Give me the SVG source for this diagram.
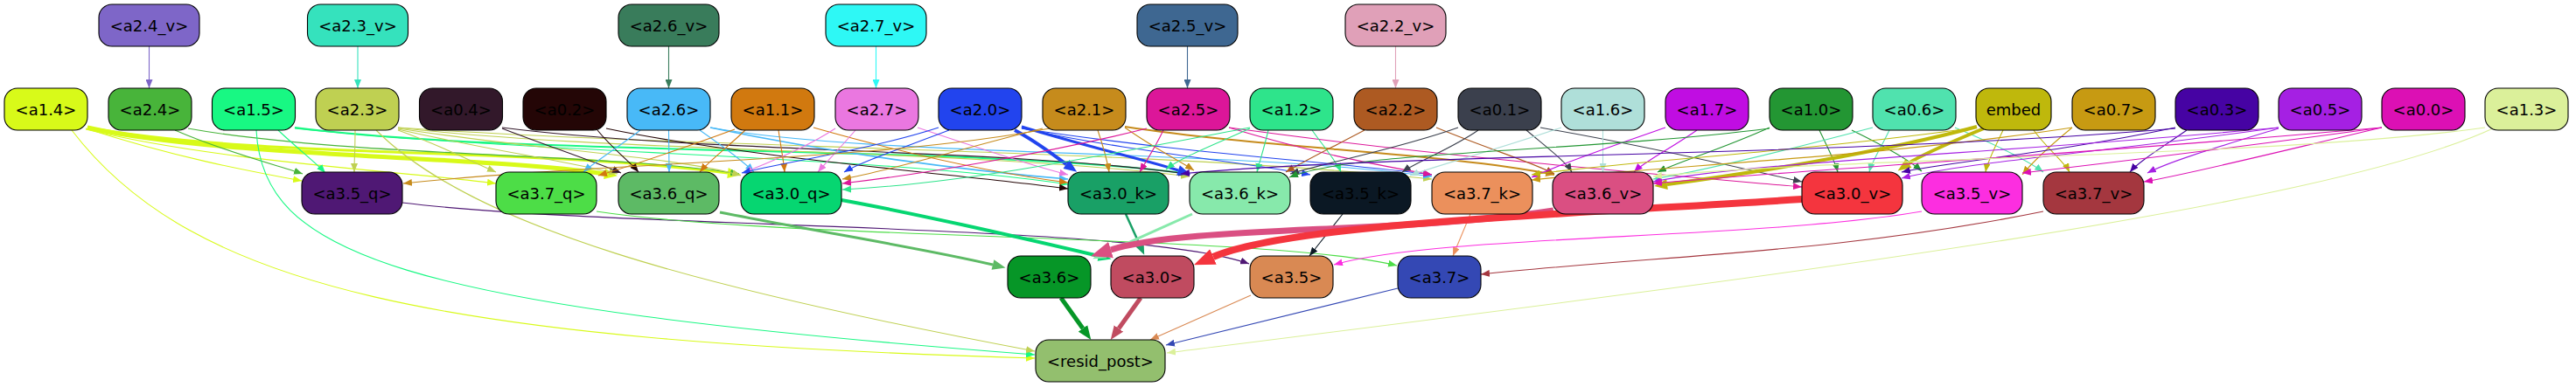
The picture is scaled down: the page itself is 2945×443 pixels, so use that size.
<svg xmlns="http://www.w3.org/2000/svg" width="2945" height="443" viewBox="0 0 2945 443">
<style>
.n rect{stroke:#000;stroke-width:1.1}
.n text{font-family:"DejaVu Sans","Liberation Sans",sans-serif;font-size:18px;text-anchor:middle;fill:#000}
#edges path{fill:none;stroke-width:1.1}
</style>
<defs>
<marker id="t-a24v" viewBox="0 0 10 8" refX="10" refY="4" markerWidth="10" markerHeight="8" orient="auto" markerUnits="userSpaceOnUse"><path d="M0,0L10,4L0,8z" fill="#7e66c8"/></marker>
<marker id="t-a23v" viewBox="0 0 10 8" refX="10" refY="4" markerWidth="10" markerHeight="8" orient="auto" markerUnits="userSpaceOnUse"><path d="M0,0L10,4L0,8z" fill="#35e2bd"/></marker>
<marker id="t-a26v" viewBox="0 0 10 8" refX="10" refY="4" markerWidth="10" markerHeight="8" orient="auto" markerUnits="userSpaceOnUse"><path d="M0,0L10,4L0,8z" fill="#397c5b"/></marker>
<marker id="t-a27v" viewBox="0 0 10 8" refX="10" refY="4" markerWidth="10" markerHeight="8" orient="auto" markerUnits="userSpaceOnUse"><path d="M0,0L10,4L0,8z" fill="#2ef8f5"/></marker>
<marker id="t-a25v" viewBox="0 0 10 8" refX="10" refY="4" markerWidth="10" markerHeight="8" orient="auto" markerUnits="userSpaceOnUse"><path d="M0,0L10,4L0,8z" fill="#3e6791"/></marker>
<marker id="t-a22v" viewBox="0 0 10 8" refX="10" refY="4" markerWidth="10" markerHeight="8" orient="auto" markerUnits="userSpaceOnUse"><path d="M0,0L10,4L0,8z" fill="#e0a0b8"/></marker>
<marker id="t-a14" viewBox="0 0 10 8" refX="10" refY="4" markerWidth="10" markerHeight="8" orient="auto" markerUnits="userSpaceOnUse"><path d="M0,0L10,4L0,8z" fill="#d8fa19"/></marker>
<marker id="t-a24" viewBox="0 0 10 8" refX="10" refY="4" markerWidth="10" markerHeight="8" orient="auto" markerUnits="userSpaceOnUse"><path d="M0,0L10,4L0,8z" fill="#48b43a"/></marker>
<marker id="t-a15" viewBox="0 0 10 8" refX="10" refY="4" markerWidth="10" markerHeight="8" orient="auto" markerUnits="userSpaceOnUse"><path d="M0,0L10,4L0,8z" fill="#18f883"/></marker>
<marker id="t-a23" viewBox="0 0 10 8" refX="10" refY="4" markerWidth="10" markerHeight="8" orient="auto" markerUnits="userSpaceOnUse"><path d="M0,0L10,4L0,8z" fill="#bfd052"/></marker>
<marker id="t-a04" viewBox="0 0 10 8" refX="10" refY="4" markerWidth="10" markerHeight="8" orient="auto" markerUnits="userSpaceOnUse"><path d="M0,0L10,4L0,8z" fill="#32182a"/></marker>
<marker id="t-a02" viewBox="0 0 10 8" refX="10" refY="4" markerWidth="10" markerHeight="8" orient="auto" markerUnits="userSpaceOnUse"><path d="M0,0L10,4L0,8z" fill="#240606"/></marker>
<marker id="t-a26" viewBox="0 0 10 8" refX="10" refY="4" markerWidth="10" markerHeight="8" orient="auto" markerUnits="userSpaceOnUse"><path d="M0,0L10,4L0,8z" fill="#48b9f7"/></marker>
<marker id="t-a11" viewBox="0 0 10 8" refX="10" refY="4" markerWidth="10" markerHeight="8" orient="auto" markerUnits="userSpaceOnUse"><path d="M0,0L10,4L0,8z" fill="#d1790f"/></marker>
<marker id="t-a27" viewBox="0 0 10 8" refX="10" refY="4" markerWidth="10" markerHeight="8" orient="auto" markerUnits="userSpaceOnUse"><path d="M0,0L10,4L0,8z" fill="#ea77e0"/></marker>
<marker id="t-a20" viewBox="0 0 10 8" refX="10" refY="4" markerWidth="10" markerHeight="8" orient="auto" markerUnits="userSpaceOnUse"><path d="M0,0L10,4L0,8z" fill="#2244ee"/></marker>
<marker id="t-a21" viewBox="0 0 10 8" refX="10" refY="4" markerWidth="10" markerHeight="8" orient="auto" markerUnits="userSpaceOnUse"><path d="M0,0L10,4L0,8z" fill="#c68b1c"/></marker>
<marker id="t-a25" viewBox="0 0 10 8" refX="10" refY="4" markerWidth="10" markerHeight="8" orient="auto" markerUnits="userSpaceOnUse"><path d="M0,0L10,4L0,8z" fill="#dc1699"/></marker>
<marker id="t-a12" viewBox="0 0 10 8" refX="10" refY="4" markerWidth="10" markerHeight="8" orient="auto" markerUnits="userSpaceOnUse"><path d="M0,0L10,4L0,8z" fill="#2ee48b"/></marker>
<marker id="t-a22" viewBox="0 0 10 8" refX="10" refY="4" markerWidth="10" markerHeight="8" orient="auto" markerUnits="userSpaceOnUse"><path d="M0,0L10,4L0,8z" fill="#ad5a22"/></marker>
<marker id="t-a01" viewBox="0 0 10 8" refX="10" refY="4" markerWidth="10" markerHeight="8" orient="auto" markerUnits="userSpaceOnUse"><path d="M0,0L10,4L0,8z" fill="#3b404d"/></marker>
<marker id="t-a16" viewBox="0 0 10 8" refX="10" refY="4" markerWidth="10" markerHeight="8" orient="auto" markerUnits="userSpaceOnUse"><path d="M0,0L10,4L0,8z" fill="#afdfd9"/></marker>
<marker id="t-a17" viewBox="0 0 10 8" refX="10" refY="4" markerWidth="10" markerHeight="8" orient="auto" markerUnits="userSpaceOnUse"><path d="M0,0L10,4L0,8z" fill="#c00de2"/></marker>
<marker id="t-a10" viewBox="0 0 10 8" refX="10" refY="4" markerWidth="10" markerHeight="8" orient="auto" markerUnits="userSpaceOnUse"><path d="M0,0L10,4L0,8z" fill="#239633"/></marker>
<marker id="t-a06" viewBox="0 0 10 8" refX="10" refY="4" markerWidth="10" markerHeight="8" orient="auto" markerUnits="userSpaceOnUse"><path d="M0,0L10,4L0,8z" fill="#50e2ae"/></marker>
<marker id="t-emb" viewBox="0 0 10 8" refX="10" refY="4" markerWidth="10" markerHeight="8" orient="auto" markerUnits="userSpaceOnUse"><path d="M0,0L10,4L0,8z" fill="#bfb80c"/></marker>
<marker id="t-a07" viewBox="0 0 10 8" refX="10" refY="4" markerWidth="10" markerHeight="8" orient="auto" markerUnits="userSpaceOnUse"><path d="M0,0L10,4L0,8z" fill="#c79a12"/></marker>
<marker id="t-a03" viewBox="0 0 10 8" refX="10" refY="4" markerWidth="10" markerHeight="8" orient="auto" markerUnits="userSpaceOnUse"><path d="M0,0L10,4L0,8z" fill="#4603a3"/></marker>
<marker id="t-a05" viewBox="0 0 10 8" refX="10" refY="4" markerWidth="10" markerHeight="8" orient="auto" markerUnits="userSpaceOnUse"><path d="M0,0L10,4L0,8z" fill="#a520e3"/></marker>
<marker id="t-a00" viewBox="0 0 10 8" refX="10" refY="4" markerWidth="10" markerHeight="8" orient="auto" markerUnits="userSpaceOnUse"><path d="M0,0L10,4L0,8z" fill="#dc10b4"/></marker>
<marker id="t-a13" viewBox="0 0 10 8" refX="10" refY="4" markerWidth="10" markerHeight="8" orient="auto" markerUnits="userSpaceOnUse"><path d="M0,0L10,4L0,8z" fill="#dbf09a"/></marker>
<marker id="t-a35q" viewBox="0 0 10 8" refX="10" refY="4" markerWidth="10" markerHeight="8" orient="auto" markerUnits="userSpaceOnUse"><path d="M0,0L10,4L0,8z" fill="#4f1874"/></marker>
<marker id="t-a37q" viewBox="0 0 10 8" refX="10" refY="4" markerWidth="10" markerHeight="8" orient="auto" markerUnits="userSpaceOnUse"><path d="M0,0L10,4L0,8z" fill="#4ddd47"/></marker>
<marker id="t-a35k" viewBox="0 0 10 8" refX="10" refY="4" markerWidth="10" markerHeight="8" orient="auto" markerUnits="userSpaceOnUse"><path d="M0,0L10,4L0,8z" fill="#0b1824"/></marker>
<marker id="t-a37k" viewBox="0 0 10 8" refX="10" refY="4" markerWidth="10" markerHeight="8" orient="auto" markerUnits="userSpaceOnUse"><path d="M0,0L10,4L0,8z" fill="#eb905c"/></marker>
<marker id="t-a35v" viewBox="0 0 10 8" refX="10" refY="4" markerWidth="10" markerHeight="8" orient="auto" markerUnits="userSpaceOnUse"><path d="M0,0L10,4L0,8z" fill="#fc2ee0"/></marker>
<marker id="t-a37v" viewBox="0 0 10 8" refX="10" refY="4" markerWidth="10" markerHeight="8" orient="auto" markerUnits="userSpaceOnUse"><path d="M0,0L10,4L0,8z" fill="#a4373f"/></marker>
<marker id="t-a35" viewBox="0 0 10 8" refX="10" refY="4" markerWidth="10" markerHeight="8" orient="auto" markerUnits="userSpaceOnUse"><path d="M0,0L10,4L0,8z" fill="#d98953"/></marker>
<marker id="t-a37" viewBox="0 0 10 8" refX="10" refY="4" markerWidth="10" markerHeight="8" orient="auto" markerUnits="userSpaceOnUse"><path d="M0,0L10,4L0,8z" fill="#3448b4"/></marker>
<marker id="M-a14" viewBox="0 0 10 8" refX="0" refY="4" markerWidth="16" markerHeight="12" orient="auto" markerUnits="userSpaceOnUse"><path d="M0,0L10,4L0,8z" fill="#d8fa19"/></marker>
<marker id="M-a20" viewBox="0 0 10 8" refX="0" refY="4" markerWidth="16" markerHeight="12" orient="auto" markerUnits="userSpaceOnUse"><path d="M0,0L10,4L0,8z" fill="#2244ee"/></marker>
<marker id="M-emb" viewBox="0 0 10 8" refX="0" refY="4" markerWidth="16" markerHeight="12" orient="auto" markerUnits="userSpaceOnUse"><path d="M0,0L10,4L0,8z" fill="#bfb80c"/></marker>
<marker id="M-a30q" viewBox="0 0 10 8" refX="0" refY="4" markerWidth="16" markerHeight="12" orient="auto" markerUnits="userSpaceOnUse"><path d="M0,0L10,4L0,8z" fill="#06d671"/></marker>
<marker id="M-a36q" viewBox="0 0 10 8" refX="0" refY="4" markerWidth="16" markerHeight="12" orient="auto" markerUnits="userSpaceOnUse"><path d="M0,0L10,4L0,8z" fill="#5dba65"/></marker>
<marker id="M-a30k" viewBox="0 0 10 8" refX="0" refY="4" markerWidth="16" markerHeight="12" orient="auto" markerUnits="userSpaceOnUse"><path d="M0,0L10,4L0,8z" fill="#19a066"/></marker>
<marker id="M-a36k" viewBox="0 0 10 8" refX="0" refY="4" markerWidth="16" markerHeight="12" orient="auto" markerUnits="userSpaceOnUse"><path d="M0,0L10,4L0,8z" fill="#87e9ab"/></marker>
<marker id="M-a36" viewBox="0 0 10 8" refX="0" refY="4" markerWidth="16" markerHeight="14" orient="auto" markerUnits="userSpaceOnUse"><path d="M0,0L10,4L0,8z" fill="#069627"/></marker>
<marker id="M-a30" viewBox="0 0 10 8" refX="0" refY="4" markerWidth="16" markerHeight="14" orient="auto" markerUnits="userSpaceOnUse"><path d="M0,0L10,4L0,8z" fill="#c04b60"/></marker>
<marker id="B-a36v" viewBox="0 0 10 8" refX="0" refY="4" markerWidth="24" markerHeight="20" orient="auto" markerUnits="userSpaceOnUse"><path d="M0,0L10,4L0,8z" fill="#da4f82"/></marker>
<marker id="B-a30v" viewBox="0 0 10 8" refX="0" refY="4" markerWidth="24" markerHeight="20" orient="auto" markerUnits="userSpaceOnUse"><path d="M0,0L10,4L0,8z" fill="#f4353e"/></marker>
</defs>
<g id="edges">
<path d="M170.5,53L170.5,101" stroke="#7e66c8" marker-end="url(#t-a24v)"/>
<path d="M409,53L409,101" stroke="#35e2bd" marker-end="url(#t-a23v)"/>
<path d="M764.5,53L764.5,101" stroke="#397c5b" marker-end="url(#t-a26v)"/>
<path d="M1001.5,53L1001.5,101" stroke="#2ef8f5" marker-end="url(#t-a27v)"/>
<path d="M1357.5,53L1357.5,101" stroke="#3e6791" marker-end="url(#t-a25v)"/>
<path d="M1595.5,53L1595.5,101" stroke="#e0a0b8" marker-end="url(#t-a22v)"/>

<path d="M98,147C200,180 280,195 345,207" stroke="#d8fa19" marker-end="url(#t-a14)"/>
<path d="M98,148C250,185 450,195 567,210" stroke="#d8fa19" marker-end="url(#t-a14)"/>
<path d="M100,146C250,180 550,178 691,199" stroke="#d8fa19" style="stroke-width:5" marker-end="url(#M-a14)"/>
<path d="M100,146C300,182 600,168 832,198" stroke="#d8fa19" style="stroke-width:3" marker-end="url(#M-a14)"/>
<path d="M82,149C220,330 500,390 1183,410" stroke="#d8fa19" marker-end="url(#t-a14)"/>

<path d="M200,149C260,175 320,190 346,199" stroke="#48b43a" marker-end="url(#t-a24)"/>
<path d="M215,147C400,180 700,175 845,199" stroke="#48b43a" marker-end="url(#t-a24)"/>

<path d="M318,149C340,170 360,185 372,198" stroke="#18f883" marker-end="url(#t-a15)"/>
<path d="M293,149C300,290 450,350 1183,406" stroke="#18f883" marker-end="url(#t-a15)"/>
<path d="M337,146C600,180 1100,165 1360,199" stroke="#18f883" style="stroke-width:2" marker-end="url(#t-a15)"/>
<path d="M337,147C600,175 1000,178 1221,211" stroke="#18f883" marker-end="url(#t-a15)"/>

<path d="M406,149C406,170 405,185 405,197" stroke="#bfd052" marker-end="url(#t-a23)"/>
<path d="M455,149C500,165 540,185 567,197" stroke="#bfd052" marker-end="url(#t-a23)"/>
<path d="M430,149C540,260 800,330 1183,402" stroke="#bfd052" marker-end="url(#t-a23)"/>
<path d="M455,148C550,170 650,185 706,199" stroke="#bfd052" marker-end="url(#t-a23)"/>
<path d="M455,147C600,170 780,180 847,201" stroke="#bfd052" marker-end="url(#t-a23)"/>
<path d="M455,146C700,175 1100,170 1360,202" stroke="#bfd052" marker-end="url(#t-a23)"/>
<path d="M455,146C800,170 1300,170 1637,205" stroke="#bfd052" marker-end="url(#t-a23)"/>

<path d="M574,147C620,165 680,185 710,198" stroke="#32182a" marker-end="url(#t-a04)"/>
<path d="M574,146C800,175 1150,170 1357,199" stroke="#32182a" marker-end="url(#t-a04)"/>

<path d="M683,149C700,170 720,185 730,197" stroke="#240606" marker-end="url(#t-a02)"/>
<path d="M693,147C850,180 1100,200 1221,216" stroke="#240606" marker-end="url(#t-a02)"/>

<path d="M732,149C705,170 680,185 667,197" stroke="#48b9f7" marker-end="url(#t-a26)"/>
<path d="M764.5,149L765,197" stroke="#48b9f7" marker-end="url(#t-a26)"/>
<path d="M800,149C830,170 850,185 862,197" stroke="#48b9f7" marker-end="url(#t-a26)"/>
<path d="M812,146C950,175 1100,195 1221,205" stroke="#48b9f7" style="stroke-width:1.6" marker-end="url(#t-a26)"/>
<path d="M812,146C1000,180 1400,170 1637,202" stroke="#48b9f7" marker-end="url(#t-a26)"/>

<path d="M852,149C830,170 810,185 800,197" stroke="#d1790f" marker-end="url(#t-a11)"/>
<path d="M890,149C893,170 896,185 897,197" stroke="#d1790f" marker-end="url(#t-a11)"/>
<path d="M930,146C1050,180 1150,200 1221,209" stroke="#d1790f" marker-end="url(#t-a11)"/>
<path d="M840,148C780,170 720,190 684,201" stroke="#d1790f" marker-end="url(#t-a11)"/>

<path d="M955,147C920,170 880,185 850,198" stroke="#ea77e0" marker-end="url(#t-a27)"/>
<path d="M978,149C960,170 945,185 935,197" stroke="#ea77e0" marker-end="url(#t-a27)"/>
<path d="M1049,146C1120,170 1180,190 1221,200" stroke="#ea77e0" marker-end="url(#t-a27)"/>

<path d="M1073,146C1000,170 900,185 848,198" stroke="#2244ee" marker-end="url(#t-a20)"/>
<path d="M1085,149C1030,170 985,185 965,197" stroke="#2244ee" marker-end="url(#t-a20)"/>
<path d="M1160,149C1185,162 1205,178 1219,188" stroke="#2244ee" style="stroke-width:4" marker-end="url(#M-a20)"/>
<path d="M1168,145C1250,170 1310,183 1347,195" stroke="#2244ee" style="stroke-width:3" marker-end="url(#M-a20)"/>
<path d="M1168,147C1300,175 1420,185 1498,200" stroke="#2244ee" marker-end="url(#t-a20)"/>
<path d="M1168,147C1350,175 1520,185 1637,200" stroke="#2244ee" marker-end="url(#t-a20)"/>

<path d="M1200,147C1000,185 700,185 461,210" stroke="#c68b1c" marker-end="url(#t-a21)"/>
<path d="M1192,147C1100,170 1020,195 963,205" stroke="#c68b1c" marker-end="url(#t-a21)"/>
<path d="M1255,149C1262,170 1266,185 1268,197" stroke="#c68b1c" marker-end="url(#t-a21)"/>
<path d="M1286,146C1320,170 1350,185 1365,195" stroke="#c68b1c" marker-end="url(#t-a21)"/>
<path d="M1286,145C1450,170 1650,175 1777,200" stroke="#c68b1c" style="stroke-width:2" marker-end="url(#t-a21)"/>

<path d="M1311,147C1200,175 1050,200 963,210" stroke="#dc1699" marker-end="url(#t-a25)"/>
<path d="M1330,149C1320,170 1310,185 1303,197" stroke="#dc1699" marker-end="url(#t-a25)"/>
<path d="M1405,146C1500,175 1580,190 1637,200" stroke="#dc1699" marker-end="url(#t-a25)"/>
<path d="M1405,146C1650,180 1900,200 2060,214" stroke="#dc1699" marker-end="url(#t-a25)"/>

<path d="M1429,146C1250,180 1100,210 963,217" stroke="#2ee48b" marker-end="url(#t-a12)"/>
<path d="M1429,147C1390,165 1350,180 1333,194" stroke="#2ee48b" marker-end="url(#t-a12)"/>
<path d="M1450,149C1445,170 1440,185 1437,197" stroke="#2ee48b" marker-end="url(#t-a12)"/>
<path d="M1500,149C1515,170 1528,185 1533,197" stroke="#2ee48b" marker-end="url(#t-a12)"/>

<path d="M1560,149C1520,170 1490,185 1470,197" stroke="#ad5a22" marker-end="url(#t-a22)"/>
<path d="M1642,146C1700,170 1750,185 1777,199" stroke="#ad5a22" marker-end="url(#t-a22)"/>

<path d="M1667,146C1600,170 1520,185 1475,199" stroke="#3b404d" marker-end="url(#t-a01)"/>
<path d="M1690,149C1660,170 1620,185 1603,197" stroke="#3b404d" marker-end="url(#t-a01)"/>
<path d="M1745,149C1770,170 1790,185 1797,197" stroke="#3b404d" marker-end="url(#t-a01)"/>
<path d="M1761,146C1900,170 2000,195 2060,208" stroke="#3b404d" marker-end="url(#t-a01)"/>

<path d="M1832.5,149L1832.5,197" stroke="#afdfd9" marker-end="url(#t-a16)"/>
<path d="M1785,146C1700,175 1640,190 1612,201" stroke="#afdfd9" marker-end="url(#t-a16)"/>

<path d="M1940,149C1910,170 1880,185 1868,197" stroke="#c00de2" marker-end="url(#t-a17)"/>
<path d="M1904,146C1850,165 1790,185 1751,203" stroke="#c00de2" marker-end="url(#t-a17)"/>

<path d="M2023,146C1970,170 1920,185 1895,197" stroke="#239633" marker-end="url(#t-a10)"/>
<path d="M2080,149C2090,170 2098,185 2101,197" stroke="#239633" marker-end="url(#t-a10)"/>
<path d="M2117,149C2160,170 2185,185 2197,196" stroke="#239633" marker-end="url(#t-a10)"/>
<path d="M2023,147C1800,175 1550,172 1474,203" stroke="#239633" marker-end="url(#t-a10)"/>

<path d="M2141,146C2050,170 1950,195 1890,205" stroke="#50e2ae" marker-end="url(#t-a06)"/>
<path d="M2160,149C2150,170 2140,185 2137,197" stroke="#50e2ae" marker-end="url(#t-a06)"/>
<path d="M2235,146C2280,165 2320,185 2336,197" stroke="#50e2ae" marker-end="url(#t-a06)"/>

<path d="M2260,145C2150,175 1990,200 1906,211" stroke="#bfb80c" style="stroke-width:4" marker-end="url(#M-emb)"/>
<path d="M2268,147C2225,165 2195,178 2182,187" stroke="#bfb80c" style="stroke-width:4" marker-end="url(#M-emb)"/>
<path d="M2290,149C2280,170 2272,185 2270,197" stroke="#bfb80c" marker-end="url(#t-emb)"/>
<path d="M2325,149C2340,170 2360,185 2366,197" stroke="#bfb80c" marker-end="url(#t-emb)"/>
<path d="M2259,146C2050,175 1850,185 1751,200" stroke="#bfb80c" marker-end="url(#t-emb)"/>

<path d="M2369,146C2340,170 2320,190 2312,200" stroke="#c79a12" marker-end="url(#t-a07)"/>
<path d="M2369,146C2150,180 1900,190 1751,206" stroke="#c79a12" marker-end="url(#t-a07)"/>

<path d="M2487,146C2350,175 2230,185 2174,197" stroke="#4603a3" marker-end="url(#t-a03)"/>
<path d="M2500,149C2470,170 2445,185 2435,197" stroke="#4603a3" marker-end="url(#t-a03)"/>
<path d="M2487,147C2100,180 1600,175 1350,199" stroke="#4603a3" marker-end="url(#t-a03)"/>

<path d="M2605,147C2530,170 2480,185 2455,198" stroke="#a520e3" marker-end="url(#t-a05)"/>
<path d="M2605,146C2300,175 2000,185 1890,208" stroke="#a520e3" marker-end="url(#t-a05)"/>
<path d="M2605,146C2400,175 2250,185 2174,204" stroke="#a520e3" marker-end="url(#t-a05)"/>

<path d="M2723,146C2600,175 2500,200 2451,208" stroke="#dc10b4" marker-end="url(#t-a00)"/>
<path d="M2723,146C2550,170 2380,190 2312,198" stroke="#dc10b4" marker-end="url(#t-a00)"/>
<path d="M2723,146C2400,175 2050,195 1890,210" stroke="#dc10b4" marker-end="url(#t-a00)"/>

<path d="M2850,147C2650,240 2000,320 1334,404" stroke="#dbf09a" marker-end="url(#t-a13)"/>
<path d="M2841,146C2600,180 2100,180 1890,202" stroke="#dbf09a" marker-end="url(#t-a13)"/>

<path d="M460,232C700,262 1300,255 1428,302" stroke="#4f1874" marker-end="url(#t-a35q)"/>
<path d="M682,242C900,275 1450,268 1597,304" stroke="#4ddd47" marker-end="url(#t-a37q)"/>
<path d="M823,243C950,268 1060,285 1135,303" stroke="#5dba65" style="stroke-width:3" marker-end="url(#M-a36q)"/>
<path d="M962,229C1050,245 1180,275 1256,293" stroke="#06d671" style="stroke-width:4" marker-end="url(#M-a30q)"/>
<path d="M1287,245L1302,278" stroke="#19a066" style="stroke-width:2.5" marker-end="url(#M-a30k)"/>
<path d="M1363,245L1263,290" stroke="#87e9ab" style="stroke-width:3" marker-end="url(#M-a36k)"/>
<path d="M1535,245L1497,293" stroke="#0b1824" marker-end="url(#t-a35k)"/>
<path d="M1681,245L1661,293" stroke="#eb905c" marker-end="url(#t-a37k)"/>
<path d="M1776,241C1600,268 1360,258 1270,286" stroke="#da4f82" style="stroke-width:7" marker-end="url(#B-a36v)"/>
<path d="M2060,228C1800,245 1480,255 1387,294" stroke="#f4353e" style="stroke-width:8" marker-end="url(#B-a30v)"/>
<path d="M2197,242C2000,275 1650,268 1525,303" stroke="#fc2ee0" marker-end="url(#t-a35v)"/>
<path d="M2336,242C2100,290 1900,292 1693,314" stroke="#a4373f" marker-end="url(#t-a37v)"/>

<path d="M1213,341L1238,376" stroke="#069627" style="stroke-width:5" marker-end="url(#M-a36)"/>
<path d="M1304,341L1279,376" stroke="#c04b60" style="stroke-width:5" marker-end="url(#M-a30)"/>
<path d="M1430,338L1315,389" stroke="#d98953" marker-end="url(#t-a35)"/>
<path d="M1598,330L1333,395" stroke="#3448b4" marker-end="url(#t-a37)"/>
</g>

<g id="a2_4_v" class="n"><rect x="113" y="5" width="115" height="48" rx="15" fill="#7e66c8"/><text x="170.5" y="35.5">&lt;a2.4_v&gt;</text></g>
<g id="a2_3_v" class="n"><rect x="351.5" y="5" width="115" height="48" rx="15" fill="#35e2bd"/><text x="409" y="35.5">&lt;a2.3_v&gt;</text></g>
<g id="a2_6_v" class="n"><rect x="707" y="5" width="115" height="48" rx="15" fill="#397c5b"/><text x="764.5" y="35.5">&lt;a2.6_v&gt;</text></g>
<g id="a2_7_v" class="n"><rect x="944" y="5" width="115" height="48" rx="15" fill="#2ef8f5"/><text x="1001.5" y="35.5">&lt;a2.7_v&gt;</text></g>
<g id="a2_5_v" class="n"><rect x="1300" y="5" width="115" height="48" rx="15" fill="#3e6791"/><text x="1357.5" y="35.5">&lt;a2.5_v&gt;</text></g>
<g id="a2_2_v" class="n"><rect x="1538" y="5" width="115" height="48" rx="15" fill="#e0a0b8"/><text x="1595.5" y="35.5">&lt;a2.2_v&gt;</text></g>

<g id="a1_4" class="n"><rect x="5" y="101" width="95" height="48" rx="15" fill="#d8fa19"/><text x="52.5" y="131.5">&lt;a1.4&gt;</text></g>
<g id="a2_4" class="n"><rect x="124" y="101" width="95" height="48" rx="15" fill="#48b43a"/><text x="171.5" y="131.5">&lt;a2.4&gt;</text></g>
<g id="a1_5" class="n"><rect x="242.5" y="101" width="95" height="48" rx="15" fill="#18f883"/><text x="290" y="131.5">&lt;a1.5&gt;</text></g>
<g id="a2_3" class="n"><rect x="361" y="101" width="95" height="48" rx="15" fill="#bfd052"/><text x="408.5" y="131.5">&lt;a2.3&gt;</text></g>
<g id="a0_4" class="n"><rect x="479.5" y="101" width="95" height="48" rx="15" fill="#32182a"/><text x="527" y="131.5">&lt;a0.4&gt;</text></g>
<g id="a0_2" class="n"><rect x="598" y="101" width="95" height="48" rx="15" fill="#240606"/><text x="645.5" y="131.5">&lt;a0.2&gt;</text></g>
<g id="a2_6" class="n"><rect x="717" y="101" width="95" height="48" rx="15" fill="#48b9f7"/><text x="764.5" y="131.5">&lt;a2.6&gt;</text></g>
<g id="a1_1" class="n"><rect x="836" y="101" width="95" height="48" rx="15" fill="#d1790f"/><text x="883.5" y="131.5">&lt;a1.1&gt;</text></g>
<g id="a2_7" class="n"><rect x="955" y="101" width="95" height="48" rx="15" fill="#ea77e0"/><text x="1002.5" y="131.5">&lt;a2.7&gt;</text></g>
<g id="a2_0" class="n"><rect x="1073" y="101" width="95" height="48" rx="15" fill="#2244ee"/><text x="1120.5" y="131.5">&lt;a2.0&gt;</text></g>
<g id="a2_1" class="n"><rect x="1192" y="101" width="95" height="48" rx="15" fill="#c68b1c"/><text x="1239.5" y="131.5">&lt;a2.1&gt;</text></g>
<g id="a2_5" class="n"><rect x="1311" y="101" width="95" height="48" rx="15" fill="#dc1699"/><text x="1358.5" y="131.5">&lt;a2.5&gt;</text></g>
<g id="a1_2" class="n"><rect x="1429" y="101" width="95" height="48" rx="15" fill="#2ee48b"/><text x="1476.5" y="131.5">&lt;a1.2&gt;</text></g>
<g id="a2_2" class="n"><rect x="1548" y="101" width="95" height="48" rx="15" fill="#ad5a22"/><text x="1595.5" y="131.5">&lt;a2.2&gt;</text></g>
<g id="a0_1" class="n"><rect x="1667" y="101" width="95" height="48" rx="15" fill="#3b404d"/><text x="1714.5" y="131.5">&lt;a0.1&gt;</text></g>
<g id="a1_6" class="n"><rect x="1785" y="101" width="95" height="48" rx="15" fill="#afdfd9"/><text x="1832.5" y="131.5">&lt;a1.6&gt;</text></g>
<g id="a1_7" class="n"><rect x="1904" y="101" width="95" height="48" rx="15" fill="#c00de2"/><text x="1951.5" y="131.5">&lt;a1.7&gt;</text></g>
<g id="a1_0" class="n"><rect x="2023" y="101" width="95" height="48" rx="15" fill="#239633"/><text x="2070.5" y="131.5">&lt;a1.0&gt;</text></g>
<g id="a0_6" class="n"><rect x="2141" y="101" width="95" height="48" rx="15" fill="#50e2ae"/><text x="2188.5" y="131.5">&lt;a0.6&gt;</text></g>
<g id="embed" class="n"><rect x="2259" y="101" width="86" height="48" rx="15" fill="#bfb80c"/><text x="2302" y="131.5">embed</text></g>
<g id="a0_7" class="n"><rect x="2369" y="101" width="95" height="48" rx="15" fill="#c79a12"/><text x="2416.5" y="131.5">&lt;a0.7&gt;</text></g>
<g id="a0_3" class="n"><rect x="2487" y="101" width="95" height="48" rx="15" fill="#4603a3"/><text x="2534.5" y="131.5">&lt;a0.3&gt;</text></g>
<g id="a0_5" class="n"><rect x="2605" y="101" width="95" height="48" rx="15" fill="#a520e3"/><text x="2652.5" y="131.5">&lt;a0.5&gt;</text></g>
<g id="a0_0" class="n"><rect x="2723" y="101" width="95" height="48" rx="15" fill="#dc10b4"/><text x="2770.5" y="131.5">&lt;a0.0&gt;</text></g>
<g id="a1_3" class="n"><rect x="2841" y="101" width="95" height="48" rx="15" fill="#dbf09a"/><text x="2888.5" y="131.5">&lt;a1.3&gt;</text></g>

<g id="a3_5_q" class="n"><rect x="345" y="197" width="115" height="48" rx="15" fill="#4f1874"/><text x="402.5" y="227.5">&lt;a3.5_q&gt;</text></g>
<g id="a3_7_q" class="n"><rect x="567" y="197" width="115" height="48" rx="15" fill="#4ddd47"/><text x="624.5" y="227.5">&lt;a3.7_q&gt;</text></g>
<g id="a3_6_q" class="n"><rect x="707" y="197" width="115" height="48" rx="15" fill="#5dba65"/><text x="764.5" y="227.5">&lt;a3.6_q&gt;</text></g>
<g id="a3_0_q" class="n"><rect x="847" y="197" width="115" height="48" rx="15" fill="#06d671"/><text x="904.5" y="227.5">&lt;a3.0_q&gt;</text></g>
<g id="a3_0_k" class="n"><rect x="1221" y="197" width="115" height="48" rx="15" fill="#19a066"/><text x="1278.5" y="227.5">&lt;a3.0_k&gt;</text></g>
<g id="a3_6_k" class="n"><rect x="1360" y="197" width="115" height="48" rx="15" fill="#87e9ab"/><text x="1417.5" y="227.5">&lt;a3.6_k&gt;</text></g>
<g id="a3_5_k" class="n"><rect x="1498" y="197" width="115" height="48" rx="15" fill="#0b1824"/><text x="1555.5" y="227.5">&lt;a3.5_k&gt;</text></g>
<g id="a3_7_k" class="n"><rect x="1637" y="197" width="115" height="48" rx="15" fill="#eb905c"/><text x="1694.5" y="227.5">&lt;a3.7_k&gt;</text></g>
<g id="a3_6_v" class="n"><rect x="1775" y="197" width="115" height="48" rx="15" fill="#da4f82"/><text x="1832.5" y="227.5">&lt;a3.6_v&gt;</text></g>
<g id="a3_0_v" class="n"><rect x="2060" y="197" width="115" height="48" rx="15" fill="#f4353e"/><text x="2117.5" y="227.5">&lt;a3.0_v&gt;</text></g>
<g id="a3_5_v" class="n"><rect x="2197" y="197" width="115" height="48" rx="15" fill="#fc2ee0"/><text x="2254.5" y="227.5">&lt;a3.5_v&gt;</text></g>
<g id="a3_7_v" class="n"><rect x="2336" y="197" width="115" height="48" rx="15" fill="#a4373f"/><text x="2393.5" y="227.5">&lt;a3.7_v&gt;</text></g>

<g id="a3_6" class="n"><rect x="1152" y="293" width="95" height="48" rx="15" fill="#069627"/><text x="1199.5" y="323.5">&lt;a3.6&gt;</text></g>
<g id="a3_0" class="n"><rect x="1270" y="293" width="95" height="48" rx="15" fill="#c04b60"/><text x="1317.5" y="323.5">&lt;a3.0&gt;</text></g>
<g id="a3_5" class="n"><rect x="1429" y="293" width="95" height="48" rx="15" fill="#d98953"/><text x="1476.5" y="323.5">&lt;a3.5&gt;</text></g>
<g id="a3_7" class="n"><rect x="1598" y="293" width="95" height="48" rx="15" fill="#3448b4"/><text x="1645.5" y="323.5">&lt;a3.7&gt;</text></g>

<g id="resid_post" class="n"><rect x="1184" y="389" width="148" height="48" rx="15" fill="#93bf6e"/><text x="1258" y="419.5">&lt;resid_post&gt;</text></g>
</svg>
